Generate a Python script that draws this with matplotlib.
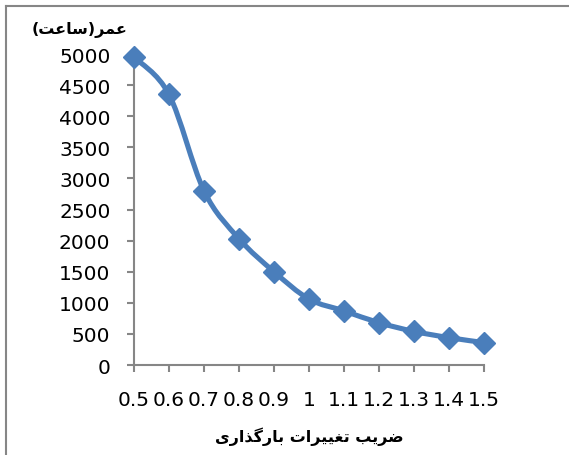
import matplotlib
matplotlib.use('Agg')
import matplotlib.pyplot as plt
from matplotlib.path import Path
from matplotlib.patches import PathPatch
from matplotlib.lines import Line2D

# data
load_factor = ['0.5', '0.6', '0.7', '0.8', '0.9', '1', '1.1', '1.2', '1.3', '1.4', '1.5']
life_hours = [4950, 4350, 2800, 2030, 1500, 1060, 870, 680, 540, 440, 360]
y_ticks = [0, 500, 1000, 1500, 2000, 2500, 3000, 3500, 4000, 4500, 5000]

y_title = 'عمر(ساعت)'
x_title = 'ضریب تغییرات بارگذاری'

LINE_COLOR = '#4A7EBB'
AXIS_COLOR = '#868686'

# minimal Persian shaping (matplotlib has no complex text layout)
FORMS = {  # isolated, final, initial, medial
    'ع': ('\uFEC9', '\uFECA', '\uFECB', '\uFECC'),
    'غ': ('\uFECD', '\uFECE', '\uFECF', '\uFED0'),
    'م': ('\uFEE1', '\uFEE2', '\uFEE3', '\uFEE4'),
    'س': ('\uFEB1', '\uFEB2', '\uFEB3', '\uFEB4'),
    'ت': ('\uFE95', '\uFE96', '\uFE97', '\uFE98'),
    'ض': ('\uFEBD', '\uFEBE', '\uFEBF', '\uFEC0'),
    'ب': ('\uFE8F', '\uFE90', '\uFE91', '\uFE92'),
    'ی': ('\uFBFC', '\uFBFD', '\uFBFE', '\uFBFF'),
    'گ': ('\uFB92', '\uFB93', '\uFB94', '\uFB95'),
    'ر': ('\uFEAD', '\uFEAE', None, None),
    'ذ': ('\uFEAB', '\uFEAC', None, None),
    'ا': ('\uFE8D', '\uFE8E', None, None),
}
MIRROR = {'(': ')', ')': '('}


def shape_rtl(s):
    out = []
    for i, ch in enumerate(s):
        if ch not in FORMS:
            out.append(MIRROR.get(ch, ch))
            continue
        prev = s[i - 1] if i > 0 else ''
        nxt = s[i + 1] if i + 1 < len(s) else ''
        join_prev = prev in FORMS and FORMS[prev][2] is not None
        join_next = FORMS[ch][2] is not None and nxt in FORMS
        if join_prev and join_next:
            out.append(FORMS[ch][3])
        elif join_prev:
            out.append(FORMS[ch][1])
        elif join_next:
            out.append(FORMS[ch][2])
        else:
            out.append(FORMS[ch][0])
    return ''.join(reversed(out))


W, H = 569, 456
fig = plt.figure(figsize=(W / 100, H / 100), dpi=100)

x0, x1 = 134, 484
y0, y1 = 366, 55
ax = fig.add_axes([x0 / W, 1 - y0 / H, (x1 - x0) / W, (y0 - y1) / H])

xs = list(range(len(load_factor)))

# smoothed line (Catmull-Rom style bezier, like Excel's smoothed line)
pts = list(zip(xs, life_hours))
verts = [pts[0]]
codes = [Path.MOVETO]
n = len(pts)
for i in range(n - 1):
    p0 = pts[i - 1] if i > 0 else pts[i]
    p1 = pts[i]
    p2 = pts[i + 1]
    p3 = pts[i + 2] if i + 2 < n else pts[i + 1]
    c1 = (p1[0] + (p2[0] - p0[0]) / 6, p1[1] + (p2[1] - p0[1]) / 6)
    c2 = (p2[0] - (p3[0] - p1[0]) / 6, p2[1] - (p3[1] - p1[1]) / 6)
    verts += [c1, c2, p2]
    codes += [Path.CURVE4] * 3
ax.add_patch(PathPatch(Path(verts, codes), fill=False, edgecolor=LINE_COLOR,
                       linewidth=3.7, capstyle='round', joinstyle='round', clip_on=False))
ax.plot(xs, life_hours, linestyle='none', marker='D', markersize=11,
        color=LINE_COLOR, clip_on=False, zorder=3)

ax.set_xlim(0, len(load_factor) - 1)
ax.set_ylim(0, 5000)
ax.set_xticks(xs)
ax.set_xticklabels(load_factor)
ax.set_yticks(y_ticks)

for side in ['top', 'right']:
    ax.spines[side].set_visible(False)
for side in ['left', 'bottom']:
    ax.spines[side].set_color(AXIS_COLOR)
    ax.spines[side].set_linewidth(1.5)

ax.tick_params(axis='both', direction='out', length=5, width=1.5, color=AXIS_COLOR,
               labelsize=14.5, labelcolor='black')
ax.tick_params(axis='y', pad=12)
ax.tick_params(axis='x', pad=13)

fig.text(80 / W, 1 - 30 / H, shape_rtl(y_title), ha='center', va='center',
         fontsize=11.5, fontweight='bold', family='DejaVu Sans')
fig.text(309 / W, 1 - 437 / H, shape_rtl(x_title), ha='center', va='center',
         fontsize=11.5, fontweight='bold', family='DejaVu Sans')

# chart area border (only top and left edges visible)
fig.add_artist(Line2D([5.5 / W, 5.5 / W], [0, 1 - 6.5 / H], color=AXIS_COLOR, linewidth=1.5))
fig.add_artist(Line2D([5.5 / W, 1], [1 - 6.5 / H, 1 - 6.5 / H], color=AXIS_COLOR, linewidth=1.5))

fig.savefig('out.png', dpi=100)
